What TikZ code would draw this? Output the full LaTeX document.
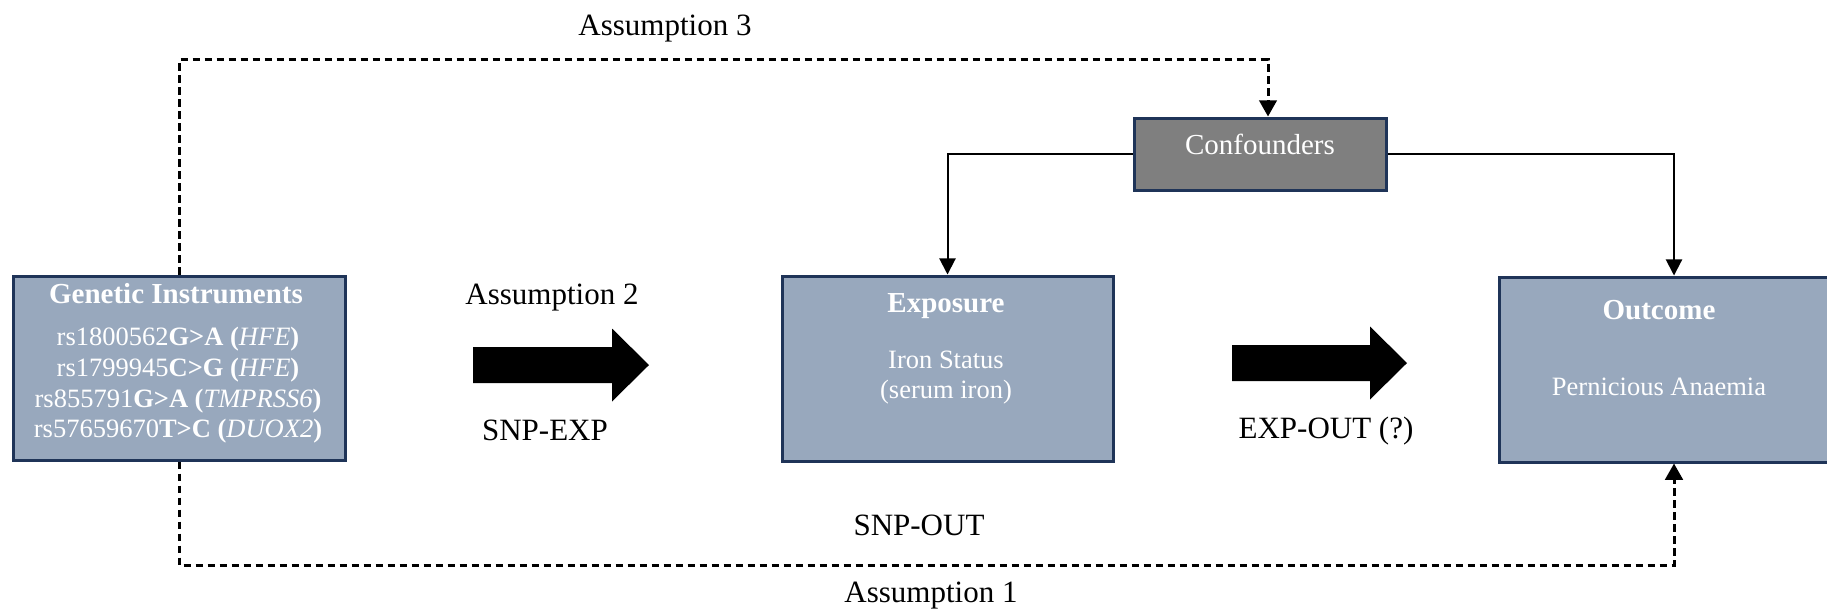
\documentclass[tikz,border=0pt]{standalone}
\usepackage{fontspec}
\setmainfont{Liberation Serif}
\usetikzlibrary{arrows.meta,calc}

\definecolor{boxfill}{HTML}{98A8BD}
\definecolor{navy}{HTML}{1F3458}
\definecolor{conffill}{HTML}{7F7F7F}

\tikzset{
	box/.style={draw=navy, line width=1.2pt, fill=boxfill, inner sep=0pt},
	boxtext/.style={text=white, anchor=base, inner sep=0pt, font=\fontsize{10.6}{12}\selectfont},
	boxtitle/.style={text=white, anchor=base, inner sep=0pt, font=\fontsize{11.6}{13}\selectfont\bfseries},
	lab/.style={anchor=base, inner sep=0pt, font=\fontsize{12.4}{14}\selectfont},
	dashline/.style={dash pattern=on 3pt off 1.8pt, line width=1.2pt, -{Triangle[width=7pt,length=6.5pt]}},
	solidline/.style={line width=0.8pt, -{Triangle[width=6.5pt,length=6.5pt]}}
}

\begin{document}
\begin{tikzpicture}[x=0.4pt, y=-0.4pt]
	\useasboundingbox (0,0) rectangle (1827,609);
	
	% the four boxes
	\node[box, minimum width=132.4pt, minimum height=73.6pt] (gen) at (179.5,368) {};
	\node[box, minimum width=132.4pt, minimum height=74pt] (exp) at (947.5,368.5) {};
	\node[box, minimum width=140pt, minimum height=74pt] (out) at (1674,369.5) {};
	\node[box, fill=conffill, minimum width=100.8pt, minimum height=28.8pt] (conf) at (1260,154) {};
	
	% genetic instruments
	\node[boxtitle] (gentitle) at (176,303) {Genetic Instruments};
	\node[boxtext] (snpa) at (178,345) {rs1800562\textbf{G>A (}\textit{HFE}\textbf{)}};
	\node[boxtext] (snpb) at (178,376) {rs1799945\textbf{C>G (}\textit{HFE}\textbf{)}};
	\node[boxtext] (snpc) at (178,407) {rs855791\textbf{G>A (}\textit{TMPRSS6}\textbf{)}};
	\node[boxtext] (snpd) at (178,437) {rs57659670\textbf{T>C (}\textit{DUOX2}\textbf{)}};
	
	% exposure
	\node[boxtitle] (exptitle) at (946,312) {Exposure};
	\node[boxtext] (expa) at (946,368) {Iron Status};
	\node[boxtext] (expb) at (946,398) {(serum iron)};
	
	% outcome
	\node[boxtitle] (outtitle) at (1659,319) {Outcome};
	\node[boxtext] (outa) at (1659,395) {Pernicious Anaemia};
	
	% confounders
	\node[boxtext, font=\fontsize{11.6}{13}\selectfont] (conftext) at (1260,154) {Confounders};
	
	% labels
	\node[lab] (asmc) at (665,35) {Assumption 3};
	\node[lab] (asmb) at (552,304) {Assumption 2};
	\node[lab] (asma) at (931,602) {Assumption 1};
	\node[lab] (snpexp) at (545,440) {SNP-EXP};
	\node[lab] (expout) at (1326,438) {EXP-OUT (?)};
	\node[lab] (snpout) at (919,535) {SNP-OUT};
	
	% fat arrows
	\def\fatarrow#1#2#3{\fill (#1,#3-18) -- (#2-37,#3-18) -- (#2-37,#3-36.5) -- (#2,#3)
		-- (#2-37,#3+36.5) -- (#2-37,#3+18) -- (#1,#3+18) -- cycle;}
	\fatarrow{473}{649}{365}
	\fatarrow{1232}{1407}{363}
	
	% confounders to exposure and outcome
	\draw[solidline] (conf.west) -| (exp.north);
	\draw[solidline] (conf.east) -| (out.north);
	
	% assumption paths
	\draw[dashline] (gen.north) -- ++(0,-215) -| ([xshift=3.2pt]conf.north);
	\draw[dashline] (gen.south) -- ++(0,104) -| (out.south);
\end{tikzpicture}
\end{document}
